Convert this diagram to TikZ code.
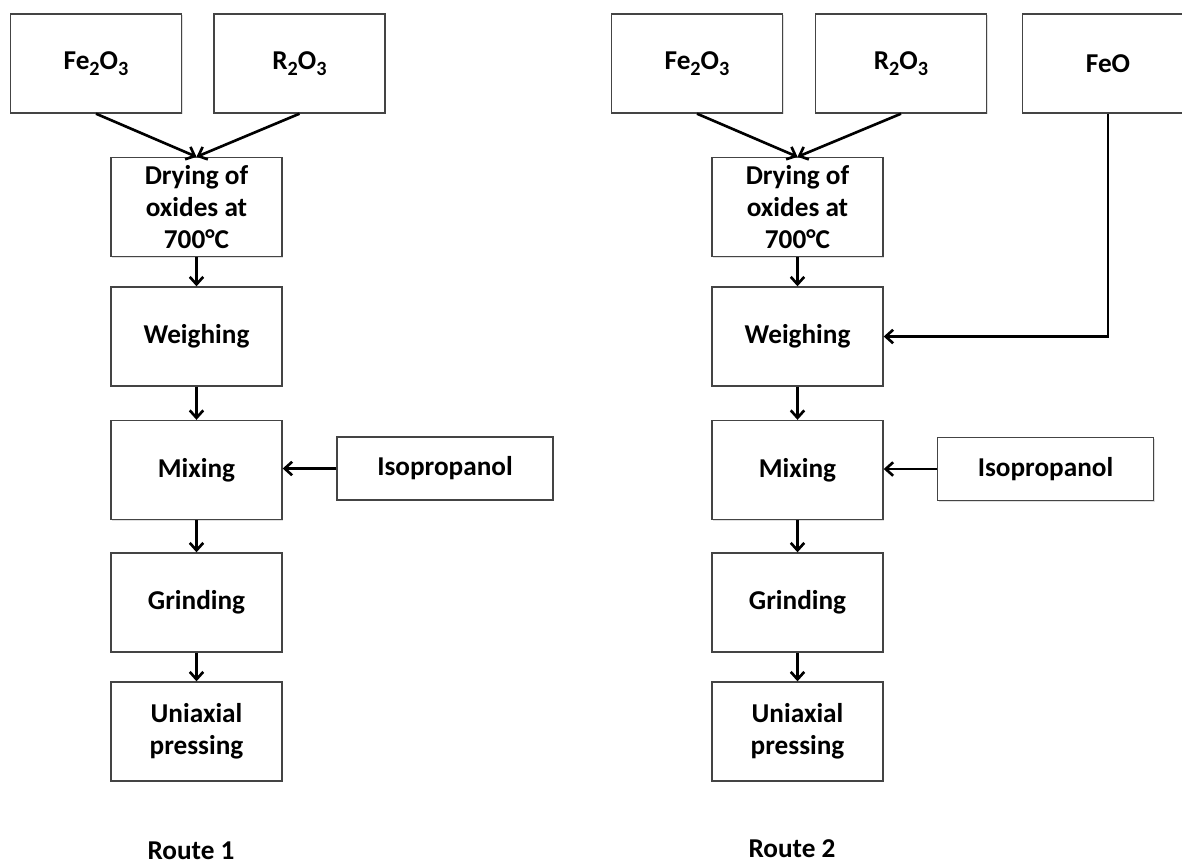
\documentclass[tikz,border=0pt]{standalone}
\usepackage{fontspec}
\setmainfont{Carlito}
\usetikzlibrary{arrows.meta,positioning,shadows}
\definecolor{edge}{HTML}{444444}
\newcommand{\chemsub}[1]{\raisebox{-0.45ex}{\fontsize{11.5}{11.5}\selectfont #1}}

\begin{document}
\begin{tikzpicture}[
    x=0.02cm,y=-0.02cm,
    stepbox/.style={rectangle,draw=edge,line width=0.8pt,fill=white,align=center,font=\fontsize{15.5}{18.2}\selectfont\bfseries,minimum width=3.42cm,minimum height=1.98cm,inner sep=1pt,drop shadow={shadow xshift=0.8pt,shadow yshift=-0.8pt,opacity=0.25}},
    addbox/.style={stepbox,minimum width=4.32cm,minimum height=1.26cm},
    lbl/.style={font=\fontsize{15.5}{18}\selectfont\bfseries},
    arr/.style={-{Straight Barb[length=1.5mm,width=2.7mm]},line width=1.5pt},
]
\useasboundingbox (0,0) rectangle (1182,866);

% Route 1
\node[stepbox] (fe1) at (96,63.5) {Fe\chemsub{2}O\chemsub{3}};
\node[stepbox] (r1) at (299.5,63.5) {R\chemsub{2}O\chemsub{3}};
\node[stepbox] (dry1) at (196.5,207) {Drying of\\oxides at\\700°C};
\node[stepbox] (weigh1) at (196.5,336.5) {Weighing};
\node[stepbox] (mix1) at (196.5,470) {Mixing};
\node[addbox] (iso1) at (445,468.5) {Isopropanol};
\node[stepbox] (grind1) at (196.5,602.5) {Grinding};
\node[stepbox] (press1) at (196.5,731.5) {Uniaxial\\pressing};
\node[lbl] (route1) at (191,851) {Route 1};

% Route 2
\node[stepbox] (fe2) at (697,63.5) {Fe\chemsub{2}O\chemsub{3}};
\node[stepbox] (r2) at (901,63.5) {R\chemsub{2}O\chemsub{3}};
\node[stepbox] (feo) at (1108,63.5) {FeO};
\node[stepbox] (dry2) at (797.5,207) {Drying of\\oxides at\\700°C};
\node[stepbox] (weigh2) at (797.5,336.5) {Weighing};
\node[stepbox] (mix2) at (797.5,470) {Mixing};
\node[addbox] (iso2) at (1045.5,469) {Isopropanol};
\node[stepbox] (grind2) at (797.5,602.5) {Grinding};
\node[stepbox] (press2) at (797.5,731.5) {Uniaxial\\pressing};
\node[lbl] (route2) at (792,849) {Route 2};

% Arrows
\draw[arr] (fe1.south) -- (dry1.north);
\draw[arr] (r1.south) -- (dry1.north);
\draw[arr] (dry1) -- (weigh1);
\draw[arr] (weigh1) -- (mix1);
\draw[arr] (mix1) -- (grind1);
\draw[arr] (grind1) -- (press1);
\draw[arr] (iso1.west) -- (mix1.east |- iso1.west);

\draw[arr] (fe2.south) -- (dry2.north);
\draw[arr] (r2.south) -- (dry2.north);
\draw[arr] (feo.south) |- (weigh2.east);
\draw[arr] (dry2) -- (weigh2);
\draw[arr] (weigh2) -- (mix2);
\draw[arr] (mix2) -- (grind2);
\draw[arr] (grind2) -- (press2);
\draw[arr] (iso2.west) -- (mix2.east |- iso2.west);
\end{tikzpicture}
\end{document}
